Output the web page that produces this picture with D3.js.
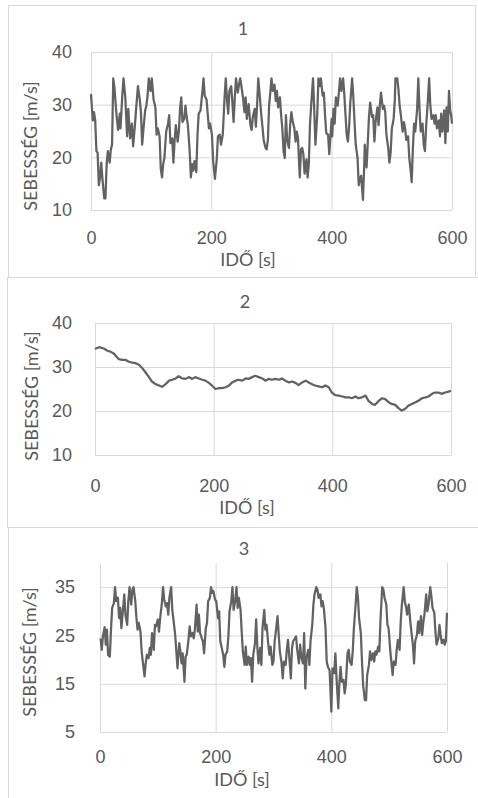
<!DOCTYPE html>
<html lang="hu">
<head>
    <meta charset="UTF-8">
    <title>Sebesség - idő</title>
    <script src="https://d3js.org/d3.v7.min.js"></script>
    <style>
        body {
            margin: 0;
            background: #fff;
        }
        svg {
            display: block;
            font-family: Lato, "Open Sans", sans-serif;
        }
        .grid line {
            stroke: #d9d9d9;
            stroke-width: 1;
        }
        .grid text, .lbl {
            fill: #595959;
            font-size: 18px;
        }
    </style>
</head>
<body>
<div id="container"></div>
<script>
    // axis ticks and texts
    const xTicks = [0, 200, 400, 600];
    const yTicksA = [10, 20, 30, 40];
    const yTicksB = [5, 15, 25, 35];
    const titles = ['1', '2', '3'];
    const xTitle = 'IDŐ [s]';
    const yTitle = 'SEBESSÉG [m/s]';

    // series 1
    const time1 = [
        0,3,5,7,9,11,13,15,17,19,
        22,24,26,28,31,33,35,37,39,42,
        45,48,49,52,54,57,60,62,65,68,
        70,73,75,78,81,83,85,88,90,92,
        94,96,99,101,104,107,109,111,114,116,
        118,120,122,125,128,130,132,135,137,139,
        141,144,146,148,150,152,155,157,159,161,
        164,166,168,170,172,175,177,179,182,185,
        187,189,192,196,198,201,203,206,209,211,
        214,216,219,222,224,226,228,230,233,235,
        237,239,241,244,246,248,250,253,255,257,
        259,262,265,267,269,272,274,276,278,281,
        283,285,287,290,292,294,296,298,300,302,
        305,307,309,311,314,316,318,320,322,324,
        326,329,331,333,335,338,340,342,344,347,
        349,351,353,355,358,360,362,364,367,369,
        371,373,376,378,380,382,385,387,389,391,
        394,396,400,401,403,405,407,410,412,414,
        416,419,421,423,425,427,429,431,434,436,
        438,440,443,445,447,449,452,454,455,458,
        460,462,464,467,469,471,473,476,478,480,
        482,485,487,489,491,494,496,498,500,503,
        505,506,509,511,513,515,518,520,522,524,
        527,529,531,533,535,537,539,542,544,546,
        548,551,553,555,557,560,562,564,566,569,
        571,573,575,578,580,582,584,587,589,591,
        593,595,597,599,600
    ];
    const speed1 = [
        32,27,28.6,27,21.2,20.9,14.7,16.2,19,15.9,
        12.2,12.2,18.7,21.2,19,21.5,22.4,35,33.2,28.6,
        25.2,28.3,25.5,31.7,35,31.4,24,29.2,23.6,26.4,
        22.1,26.1,29.2,33.5,31,28.6,22.4,26.4,28.9,29.8,
        31.7,35,32.6,35,31,29.5,24.3,25.5,24,17.8,
        16.2,18.7,19.9,24.9,26.4,28,22.7,23.6,19,23.3,
        26.1,23,24.9,29.2,31.4,26.7,27.3,29.8,27.7,26.1,
        21.2,16.2,18.7,17.5,19.3,17.2,24.3,28.3,28.9,32.3,
        35,31.7,31,25.5,26.4,24.3,19.3,15.9,19.6,24,
        24.3,22.4,24.3,31.4,35,31,28.3,32.6,33.5,30.4,
        26.7,31.4,35,32.3,33.8,35,33.5,31,28.6,31.4,
        27.3,30.1,26.1,25.2,27.7,29.2,25.8,29.8,35,31,
        28,25.8,23.3,21.8,21.5,23.3,29.8,32.3,35,32.6,
        33.8,30.7,32.6,29.5,31.4,28,25.5,21.2,19.9,28,
        23.3,21.8,26.1,28.6,27,25.5,23,24.9,23.6,16.2,
        21.5,21.8,20.6,16.9,19.6,16.2,18.7,26.4,31.7,35,
        29.2,22.4,28,35,33.5,35,31.7,32.3,28,24.6,
        24.3,20.6,27.3,24,29.2,26.4,31.4,29.8,32.3,35,
        32.6,35,32,28,24.3,23,25.8,30.4,35,31.4,
        26.7,22.4,19.9,14.7,15.9,16.5,11.9,18.1,22.4,18.1,
        22.7,27.7,30.4,27.7,28,23,26.7,29.5,26.1,29.8,
        32.3,29.2,29.8,28.6,24.3,21.8,19,20.9,25.5,27.3,
        31,35,35,32.9,29.8,28,24.9,26.7,25.5,23.3,
        24,19.9,17.8,15.3,21.8,26.4,24.9,29.2,35,29.2,
        24.9,26.4,22.4,21.2,25.8,31,35,29.8,27.3,28,
        26.4,28,25.5,27,24,28.3,24.9,28.9,22.7,29.5,
        24.9,32.6,28.9,27.7,26.4
    ];

    // series 2
    const time2 = [
        0,7,15,21,26,32,36,40,46,52,
        57,63,68,74,80,85,91,96,102,108,
        113,119,125,130,136,141,147,153,158,164,
        169,175,181,186,192,197,203,209,214,220,
        226,231,237,242,248,254,259,265,270,276,
        282,287,293,298,304,310,315,321,327,332,
        338,343,349,355,360,366,371,377,383,388,
        394,399,405,411,417,422,428,433,439,444,
        450,456,461,467,472,478,484,489,495,500,
        506,512,517,523,528,534,540,545,551,557,
        562,568,573,579,585,590,596,600
    ];
    const speed2 = [
        34.1,34.5,34.2,33.7,33.5,33,32.4,31.8,31.6,31.6,
        31.2,31,30.9,30.5,29.7,28.8,27.7,26.7,26.1,25.8,
        25.5,26.1,26.9,27.1,27.4,27.9,27.4,27.3,27.7,27.3,
        27.7,27.4,27.1,26.9,26.4,25.8,25,25.2,25.2,25.4,
        25.8,26.5,26.9,27.1,26.9,27.4,27.3,27.7,28,27.7,
        27.4,26.9,27.3,27.1,27.3,27.1,27.4,26.9,26.5,26.7,
        26.4,25.9,26.5,26.9,26.5,26.1,25.8,25.6,25.4,25.8,
        25.4,24.2,23.6,23.5,23.3,23.1,23.1,22.9,23.3,22.9,
        23.1,23.5,22.3,21.6,21.4,22.3,22.9,22.7,22,21.6,
        21.4,20.6,20.1,20.5,21.2,21.6,22,22.3,22.9,23.1,
        23.3,23.9,24.2,24.2,23.9,24.2,24.4,24.6
    ];

    // series 3
    const time3 = [
        1,3,5,8,10,12,14,17,19,21,
        24,26,28,31,33,35,37,40,42,44,
        47,49,51,54,56,58,61,63,65,67,
        70,72,74,77,79,81,84,86,88,90,
        93,95,97,100,102,104,107,109,111,114,
        116,118,120,123,125,127,130,132,134,137,
        139,141,143,146,148,150,153,155,157,160,
        162,164,167,169,171,173,176,178,180,183,
        185,187,190,192,194,196,199,201,204,206,
        208,210,213,215,217,220,222,224,227,229,
        231,234,236,238,240,243,245,247,250,252,
        254,257,259,261,263,265,268,270,272,274,
        277,279,281,284,286,288,291,293,295,298,
        300,302,304,307,309,311,314,316,318,321,
        323,325,327,330,332,334,337,339,341,344,
        346,348,351,353,355,357,360,362,364,367,
        369,371,374,376,378,381,383,385,387,390,
        392,394,397,400,402,405,407,409,412,414,
        416,418,421,423,425,428,430,432,435,437,
        439,442,444,446,448,451,453,455,458,460,
        462,465,467,469,472,474,476,478,481,483,
        485,488,490,492,495,497,499,502,504,506,
        508,511,513,515,518,520,522,525,527,529,
        531,534,536,538,541,543,545,548,550,552,
        555,557,559,561,564,566,568,571,573,575,
        578,580,582,585,587,589,591,594,596,598,
        600
    ];
    const speed3 = [
        24.4,22,24.8,26.7,23.1,26.2,21,20.6,26.2,30.7,
        31.7,35,32.1,32.8,28.6,30.7,26.5,30.7,33.5,29.3,
        27.2,32.1,35,31.4,34.5,35,32.1,28.6,26.2,27.6,
        25.8,21.7,19.6,16.5,19.2,21,20.3,22.4,21,25.5,
        22,27.2,26.9,28.3,25.8,28.6,31.7,35,32.4,31,
        31.7,29.3,32.8,35,30.3,28.3,25.1,21.7,18.2,23.4,
        21.7,19.2,21.3,15.4,20.6,21,24.1,26.9,24.8,25.5,
        24.4,26.2,31.4,25.8,29.3,25.5,24.4,23.8,21.3,26.5,
        27.6,32.1,32.8,35,33.8,34.2,32.4,32.1,28.6,30,
        23.8,22.7,21,18.5,21,21.7,24.8,30,32.1,35,
        30.3,32.4,35,30.7,32.8,30.3,25.8,21.7,18.9,22.7,
        18.9,20.6,18.9,20.3,15.4,21,23.4,28.3,22.7,19.2,
        22.4,18.9,26.5,30.3,26.2,27.2,23.1,21,22.7,18.9,
        19.6,23.8,25.8,29,25.1,21.7,19.2,16.1,19.6,18.9,
        22,24.1,21,16.1,22.4,23.8,24.4,24.8,22,19.2,
        23.1,20.6,19.2,25.5,14,20.3,22,18.9,23.8,27.2,
        31.4,33.5,35,34.5,32.8,33.5,31,32.1,30.7,26.5,
        19.6,18.5,17.8,9.2,18.2,17.2,21.3,16.1,9.9,15.4,
        18.5,15.4,15.8,13,14.7,21.3,22,19.6,18.9,21.7,
        26.5,31.4,35,32.8,28.6,25.5,19.6,14.7,11.6,11.6,
        16.8,18.9,21.7,19.9,21.3,19.6,21.7,21,22.7,21.7,
        28.3,35,34.5,32.8,31.4,27.2,26.5,21.7,19.2,16.8,
        19.6,18.9,22,24.1,22,27.9,31.4,35,32.1,31,
        29.3,31.4,28.6,26.2,23.1,19.2,23.8,25.1,27.9,25.5,
        29,25.1,27.6,29.3,33.5,30,31.4,35,33.1,30.7,
        29.7,25.8,23.1,24.4,27.2,25.1,23.4,24.1,23.1,23.8,
        29.7
    ];

    // panel layout (pixels)
    const panels = [
        { time: time1, speed: speed1, yDomain: [10, 40], yTicks: yTicksA,
          box: [8.5, 5.5, 467, 272], left: 91, right: 452, top: 52, bottom: 210,
          yPad: 19, xLabY: 34, titleX: 243, titleY: 35,
          xTitleX: 248, xTitleY: 266, yTitleX: 30, yTitleY: 146 },
        { time: time2, speed: speed2, yDomain: [10, 40], yTicks: yTicksA,
          box: [7.5, 277.5, 490, 250], left: 95, right: 451, top: 323, bottom: 455,
          yPad: 23, xLabY: 37, titleX: 245, titleY: 308,
          xTitleX: 247, xTitleY: 514, yTitleX: 31, yTitleY: 396 },
        { time: time3, speed: speed3, yDomain: [5, 40], yTicks: yTicksB,
          box: [8.5, 527.5, 490, 300], left: 100, right: 447, top: 563, bottom: 732,
          yPad: 25, xLabY: 31, titleX: 244, titleY: 555,
          xTitleX: 242, xTitleY: 786, yTitleX: 29, yTitleY: 652 }
    ];

    const svg = d3.select('#container').append('svg')
        .attr('width', 478)
        .attr('height', 798);

    panels.forEach(function(p, i) {
        const g = svg.append('g');

        // chart area border
        g.append('rect')
            .attr('x', p.box[0]).attr('y', p.box[1])
            .attr('width', p.box[2]).attr('height', p.box[3])
            .attr('fill', 'none')
            .attr('stroke', '#d9d9d9');

        const x = d3.scaleLinear().domain([0, 600]).range([p.left, p.right]);
        const y = d3.scaleLinear().domain(p.yDomain).range([p.bottom, p.top]);
        const w = p.right - p.left;
        const h = p.bottom - p.top;

        // horizontal gridlines + y labels
        g.append('g')
            .attr('class', 'grid')
            .attr('transform', 'translate(' + p.left + ',0)')
            .call(d3.axisLeft(y).tickValues(p.yTicks).tickSize(-w).tickPadding(p.yPad))
            .call(a => a.select('.domain').remove())
            .selectAll('text').attr('font-family', null).attr('font-size', null);

        // vertical gridlines + x labels
        g.append('g')
            .attr('class', 'grid')
            .attr('transform', 'translate(0,' + p.bottom + ')')
            .call(d3.axisBottom(x).tickValues(xTicks).tickSize(-h))
            .call(a => a.select('.domain').remove())
            .selectAll('text')
                .attr('font-family', null).attr('font-size', null)
                .attr('dy', null)
                .attr('y', p.xLabY);

        // the line
        const pts = d3.zip(p.time, p.speed);
        const line = d3.line()
            .x(d => x(d[0]))
            .y(d => y(d[1]));

        g.append('path')
            .datum(pts)
            .attr('d', line)
            .attr('fill', 'none')
            .attr('stroke', '#626262')
            .attr('stroke-width', 2.25)
            .attr('stroke-linejoin', 'round');

        // titles
        g.append('text').attr('class', 'lbl')
            .attr('x', p.titleX).attr('y', p.titleY)
            .attr('text-anchor', 'middle')
            .text(titles[i]);

        g.append('text').attr('class', 'lbl')
            .attr('x', p.xTitleX).attr('y', p.xTitleY)
            .attr('text-anchor', 'middle')
            .text(xTitle);

        g.append('text').attr('class', 'lbl')
            .attr('transform', 'translate(' + p.yTitleX + ',' + p.yTitleY + ') rotate(-90)')
            .attr('text-anchor', 'middle')
            .attr('dominant-baseline', 'central')
            .text(yTitle);
    });
</script>
</body>
</html>
